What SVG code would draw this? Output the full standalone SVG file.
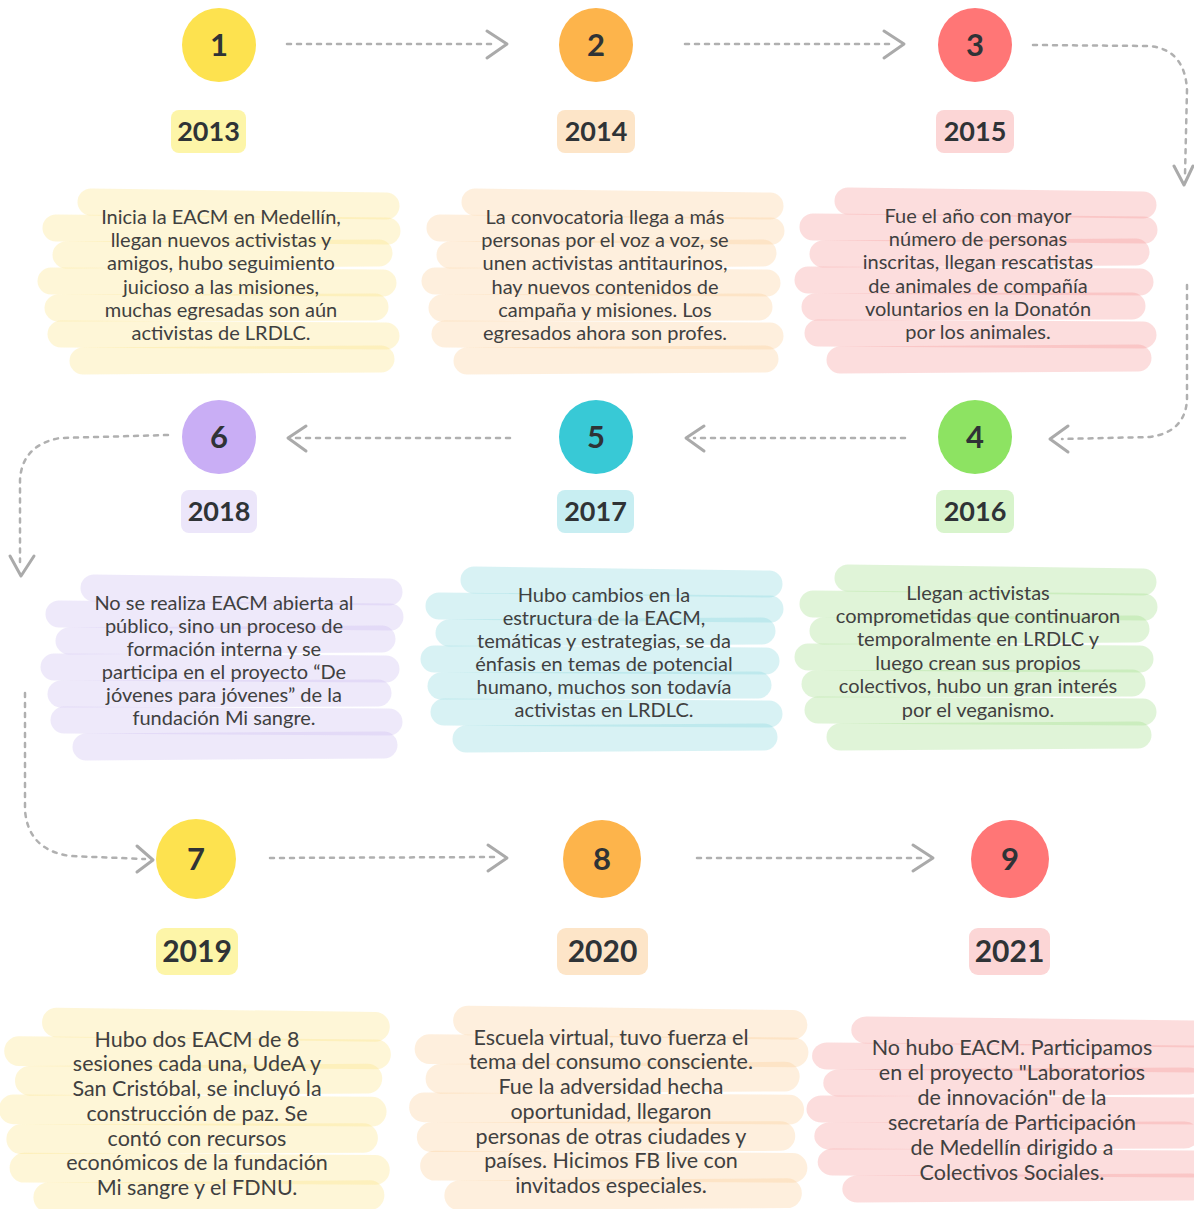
<svg xmlns="http://www.w3.org/2000/svg" xmlns:xlink="http://www.w3.org/1999/xlink" width="1194" height="1209" viewBox="0 0 1194 1209">
<style>
.body{font-family:"Lato","Liberation Sans",sans-serif;font-size:20px;fill:#404040;text-anchor:middle}
.body3{font-size:21.5px}
.year{font-family:"Lato","Liberation Sans",sans-serif;font-weight:700;font-size:27px;fill:#2f3336;text-anchor:middle}
.year3{font-size:30px}
.num{font-family:"Lato","Liberation Sans",sans-serif;font-weight:700;font-size:31px;fill:#2f3336;text-anchor:middle}
.dash{fill:none;stroke:#b0b0b0;stroke-width:2.5;stroke-dasharray:4 6;stroke-linecap:round}
.chev{fill:none;stroke:#aaaaaa;stroke-width:3;stroke-linecap:round;stroke-linejoin:round}
.hl path{fill:none;stroke:currentColor;stroke-width:27;stroke-linecap:round;stroke-opacity:0.34}
</style>
<defs>
<g id="hl" class="hl">
<path d="M-130 -15 L165 -11"/>
<path d="M-165 11 L166 14"/>
<path d="M-155 38 L158 36"/>
<path d="M-170 64 L162 66"/>
<path d="M-163 91 L154 90"/>
<path d="M-160 117 L165 119"/>
<path d="M-138 144 L160 142"/>
</g>
</defs>
<rect width="1194" height="1209" fill="#ffffff"/>

<g id="connectors">
<path class="dash" d="M287 44 L495 44"/><path class="chev" d="M487 31 L507 44 L487 58"/>
<path class="dash" d="M685 44 L892 44"/><path class="chev" d="M884 31 L904 44 L884 58"/>
<path class="dash" d="M1033 45 L1150 46 Q1185 50 1187 90 L1185 175"/><path class="chev" d="M1174 166 L1184 185 L1193 166"/>
<path class="dash" d="M1187 285 L1187 400 Q1185 432 1150 437 L1062 439"/><path class="chev" d="M1068 426 L1050 439 L1068 452"/>
<path class="dash" d="M905 438 L694 438"/><path class="chev" d="M704 426 L686 438 L704 451"/>
<path class="dash" d="M510 438 L296 438"/><path class="chev" d="M306 426 L288 438 L306 451"/>
<path class="dash" d="M168 435 L60 438 Q22 445 20 480 L20 562"/><path class="chev" d="M10 556 L21 576 L34 556"/>
<path class="dash" d="M25 693 L25 810 Q28 850 70 856 L145 859"/><path class="chev" d="M137 846 L153 860 L137 872"/>
<path class="dash" d="M270 858 L498 857"/><path class="chev" d="M488 845 L507 858 L488 871"/>
<path class="dash" d="M697 858 L923 858"/><path class="chev" d="M913 845 L933 858 L913 871"/>
</g>

<g id="node1">
<circle cx="219" cy="45" r="37" fill="#fde24f"/><text class="num" x="219" y="56">1</text>
<rect x="171" y="110" width="75" height="43" rx="8" fill="#fdf5a8"/><text class="year" x="208.5" y="141">2013</text>
<use xlink:href="#hl" href="#hl" transform="translate(221 217)" style="color:#fbe58a"/>
<text class="body"><tspan x="221" y="224">Inicia la EACM en Medellín,</tspan><tspan x="221" y="247">llegan nuevos activistas y</tspan><tspan x="221" y="270">amigos, hubo seguimiento</tspan><tspan x="221" y="294">juicioso a las misiones,</tspan><tspan x="221" y="317">muchas egresadas son aún</tspan><tspan x="221" y="340">activistas de LRDLC.</tspan></text>
</g>

<g id="node2">
<circle cx="596" cy="45" r="37" fill="#fdb44b"/><text class="num" x="596" y="56">2</text>
<rect x="557" y="110" width="78" height="43" rx="8" fill="#fde5c8"/><text class="year" x="596" y="141">2014</text>
<use xlink:href="#hl" href="#hl" transform="translate(605 217)" style="color:#fbcf9c"/>
<text class="body"><tspan x="605" y="224">La convocatoria llega a más</tspan><tspan x="605" y="247">personas por el voz a voz, se</tspan><tspan x="605" y="270">unen activistas antitaurinos,</tspan><tspan x="605" y="294">hay nuevos contenidos de</tspan><tspan x="605" y="317">campaña y misiones. Los</tspan><tspan x="605" y="340">egresados ahora son profes.</tspan></text>
</g>

<g id="node3">
<circle cx="975" cy="45" r="37" fill="#ff7676"/><text class="num" x="975" y="56">3</text>
<rect x="936" y="110" width="78" height="43" rx="8" fill="#fcd6d6"/><text class="year" x="975" y="141">2015</text>
<use xlink:href="#hl" href="#hl" transform="translate(978 216)" style="color:#f59a9a"/>
<text class="body"><tspan x="978" y="223">Fue el año con mayor</tspan><tspan x="978" y="246">número de personas</tspan><tspan x="978" y="269">inscritas, llegan rescatistas</tspan><tspan x="978" y="293">de animales de compañía</tspan><tspan x="978" y="316">voluntarios en la Donatón</tspan><tspan x="978" y="339">por los animales.</tspan></text>
</g>

<g id="node4">
<circle cx="975" cy="437" r="37" fill="#8de362"/><text class="num" x="975" y="448">4</text>
<rect x="936" y="490" width="78" height="43" rx="8" fill="#d8f4cc"/><text class="year" x="975" y="521">2016</text>
<use xlink:href="#hl" href="#hl" transform="translate(978 593)" style="color:#a5e08e"/>
<text class="body"><tspan x="978" y="600">Llegan activistas</tspan><tspan x="978" y="623">comprometidas que continuaron</tspan><tspan x="978" y="646">temporalmente en LRDLC y</tspan><tspan x="978" y="670">luego crean sus propios</tspan><tspan x="978" y="693">colectivos, hubo un gran interés</tspan><tspan x="978" y="717">por el veganismo.</tspan></text>
</g>

<g id="node5">
<circle cx="596" cy="437" r="37" fill="#38c9d6"/><text class="num" x="596" y="448">5</text>
<rect x="557" y="490" width="77" height="43" rx="8" fill="#c8eef2"/><text class="year" x="595.5" y="521">2017</text>
<use xlink:href="#hl" href="#hl" transform="translate(604 595)" style="color:#8cd9e0"/>
<text class="body"><tspan x="604" y="602">Hubo cambios en la</tspan><tspan x="604" y="625">estructura de la EACM,</tspan><tspan x="604" y="648">temáticas y estrategias, se da</tspan><tspan x="604" y="671">énfasis en temas de potencial</tspan><tspan x="604" y="694">humano, muchos son todavía</tspan><tspan x="604" y="717">activistas en LRDLC.</tspan></text>
</g>

<g id="node6">
<circle cx="219" cy="437" r="37" fill="#c9aef5"/><text class="num" x="219" y="448">6</text>
<rect x="181" y="490" width="76" height="43" rx="8" fill="#ece6fa"/><text class="year" x="219" y="521">2018</text>
<use xlink:href="#hl" href="#hl" transform="translate(224 603)" style="color:#cdbef0"/>
<text class="body"><tspan x="224" y="610">No se realiza EACM abierta al</tspan><tspan x="224" y="633">público, sino un proceso de</tspan><tspan x="224" y="656">formación interna y se</tspan><tspan x="224" y="679">participa en el proyecto “De</tspan><tspan x="224" y="702">jóvenes para jóvenes” de la</tspan><tspan x="224" y="725">fundación Mi sangre.</tspan></text>
</g>

<g id="node7">
<circle cx="196" cy="859" r="40" fill="#fde24f"/><text class="num" x="196" y="870">7</text>
<rect x="156" y="928" width="82" height="47" rx="9" fill="#fdf5a8"/><text class="year year3" x="197" y="962">2019</text>
<use xlink:href="#hl" href="#hl" transform="translate(197 1039) scale(1.08 1.1)" style="color:#fbe58a"/>
<text class="body body3"><tspan x="197" y="1047">Hubo dos EACM de 8</tspan><tspan x="197" y="1071">sesiones cada una, UdeA y</tspan><tspan x="197" y="1096">San Cristóbal, se incluyó la</tspan><tspan x="197" y="1121">construcción de paz. Se</tspan><tspan x="197" y="1146">contó con recursos</tspan><tspan x="197" y="1170">económicos de la fundación</tspan><tspan x="197" y="1195">Mi sangre y el FDNU.</tspan></text>
</g>

<g id="node8">
<circle cx="602" cy="859" r="39" fill="#fdb44b"/><text class="num" x="602" y="870">8</text>
<rect x="557" y="928" width="91" height="47" rx="9" fill="#fde5c8"/><text class="year year3" x="602.5" y="962">2020</text>
<use xlink:href="#hl" href="#hl" transform="translate(611 1037) scale(1.1 1.1)" style="color:#fbcf9c"/>
<text class="body body3"><tspan x="611" y="1045">Escuela virtual, tuvo fuerza el</tspan><tspan x="611" y="1069">tema del consumo consciente.</tspan><tspan x="611" y="1094">Fue la adversidad hecha</tspan><tspan x="611" y="1119">oportunidad, llegaron</tspan><tspan x="611" y="1144">personas de otras ciudades y</tspan><tspan x="611" y="1168">países. Hicimos FB live con</tspan><tspan x="611" y="1193">invitados especiales.</tspan></text>
</g>

<g id="node9">
<circle cx="1010" cy="859" r="39" fill="#ff7676"/><text class="num" x="1010" y="870">9</text>
<rect x="969" y="928" width="81" height="47" rx="9" fill="#fcd6d6"/><text class="year year3" x="1009.5" y="962">2021</text>
<use xlink:href="#hl" href="#hl" transform="translate(1012 1045) scale(1.12 1.0)" style="color:#f59a9a"/>
<text class="body body3"><tspan x="1012" y="1055">No hubo EACM. Participamos</tspan><tspan x="1012" y="1080">en el proyecto "Laboratorios</tspan><tspan x="1012" y="1105">de innovación" de la</tspan><tspan x="1012" y="1130">secretaría de Participación</tspan><tspan x="1012" y="1155">de Medellín dirigido a</tspan><tspan x="1012" y="1180">Colectivos Sociales.</tspan></text>
</g>
</svg>
